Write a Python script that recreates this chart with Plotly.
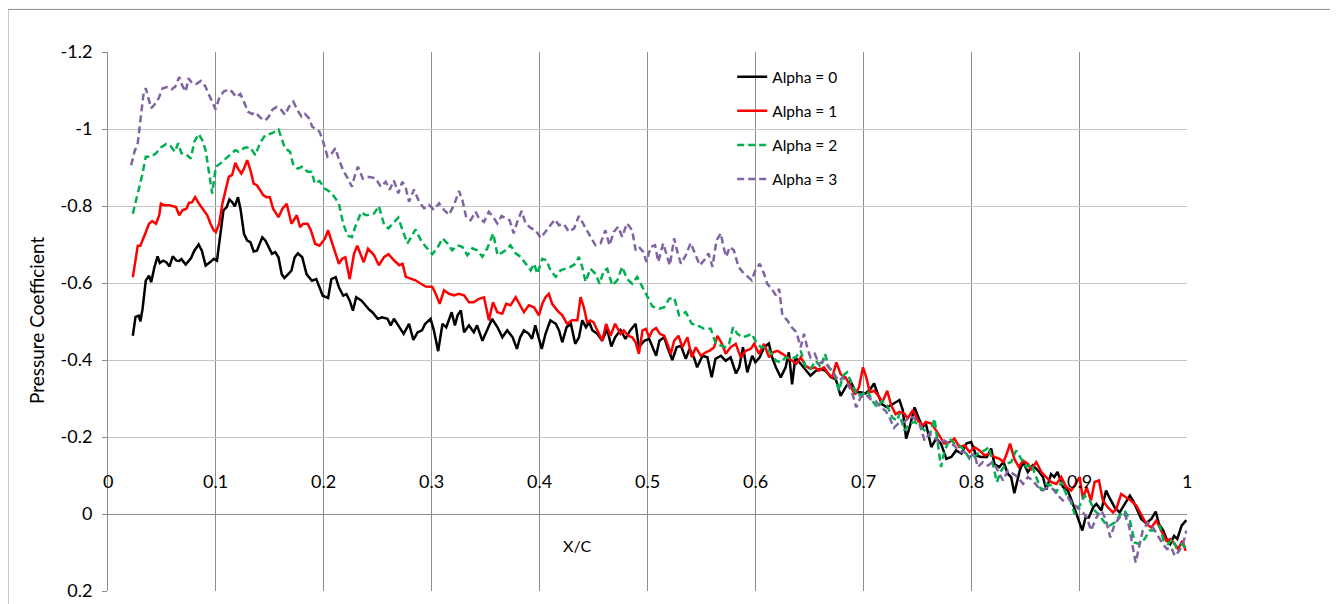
import plotly.graph_objects as go

# ---------------- data ----------------
series_names = ["Alpha = 0", "Alpha = 1", "Alpha = 2", "Alpha = 3"]

x_a0 = [0.023,0.0255,0.0285,0.030,0.032,0.035,0.038,0.040,0.043,0.046,0.048,0.051,0.054,0.057,0.060,0.0635,0.066,0.068,0.072,0.077,
        0.080,0.084,0.087,0.0905,0.095,0.098,0.101,0.103,0.107,0.110,0.1125,0.115,0.1175,0.1205,0.123,0.126,0.129,0.132,0.135,0.138,
        0.143,0.146,0.149,0.152,0.155,0.158,0.161,0.1635,0.167,0.170,0.173,0.176,0.180,0.184,0.189,0.193,0.196,0.199,0.204,0.207,
        0.211,0.214,0.218,0.221,0.224,0.227,0.230,0.235,0.239,
        0.242,0.245,0.250,0.254,0.259,0.262,0.265,0.269,0.274,0.279,0.283,0.287,0.291,0.294,0.299,0.302,0.306,0.310,0.3135,0.3185,
        0.3215,0.324,0.327,0.330,0.3345,0.339,0.342,0.347,0.351,0.356,0.361,0.3655,0.370,0.375,0.379,0.382,0.3855,0.390,0.393,0.396,
        0.399,0.402,0.4055,0.410,0.415,0.418,0.421,0.425,0.429,0.433,0.4365,0.4395,0.443,0.446,0.449,0.4535,0.458,0.4625,0.4665,0.470,
        0.475,0.4795,0.484,0.489,
        0.492,0.497,0.5015,0.5046,0.508,0.511,0.5155,0.5185,0.523,0.527,0.531,0.5355,0.539,0.543,0.546,0.551,0.5555,0.5595,0.563,0.568,
        0.5725,0.577,0.582,0.585,0.5885,0.5925,0.597,0.600,0.604,0.608,0.6125,0.6155,0.619,0.6235,0.628,0.631,0.634,0.637,0.642,0.6465,
        0.651,0.656,0.660,0.665,0.670,0.6745,0.679,0.6835,0.688,0.693,0.6975,0.702,0.7065,0.710,0.714,0.7175,0.722,0.727,0.7315,
        0.7335,0.7366,0.7397,0.743,0.7475,0.7515,0.755,0.758,0.763,0.7675,0.772,0.777,0.7815,0.786,0.791,0.7955,0.800,0.8046,0.809,0.8145,
        0.8185,0.8216,0.826,0.830,0.834,0.837,0.840,0.845,0.848,0.8525,0.857,0.862,0.8665,0.8696,0.874,0.877,0.880,0.885,0.8896,0.8943,
        0.898,0.903,0.906,0.909,0.913,0.916,0.9206,0.925,0.928,0.933,0.9376,0.942,0.947,0.950,0.9536,0.9576,0.962,0.967,0.971,0.974,
        0.978,0.981,0.9845,0.988,0.991,0.995,0.9994]
y_a0 = [-0.463,-0.512,-0.515,-0.500,-0.532,-0.606,-0.619,-0.602,-0.641,-0.669,-0.652,-0.658,-0.654,-0.643,-0.669,-0.658,-0.657,-0.662,-0.648,-0.665,
        -0.684,-0.700,-0.684,-0.645,-0.655,-0.663,-0.658,-0.706,-0.789,-0.797,-0.817,-0.810,-0.799,-0.823,-0.789,-0.728,-0.710,-0.706,-0.682,-0.684,
        -0.719,-0.710,-0.693,-0.676,-0.680,-0.667,-0.623,-0.613,-0.623,-0.632,-0.667,-0.677,-0.667,-0.623,-0.606,-0.610,-0.589,-0.567,-0.561,-0.610,
        -0.615,-0.589,-0.567,-0.571,-0.554,-0.528,-0.563,-0.554,-0.541,
        -0.531,-0.524,-0.507,-0.511,-0.507,-0.490,-0.507,-0.490,-0.468,-0.494,-0.452,-0.472,-0.477,-0.494,-0.507,-0.477,-0.423,-0.494,-0.485,-0.524,
        -0.490,-0.516,-0.529,-0.472,-0.490,-0.472,-0.490,-0.450,-0.477,-0.507,-0.485,-0.459,-0.477,-0.459,-0.429,-0.459,-0.477,-0.468,-0.455,-0.490,
        -0.459,-0.429,-0.468,-0.503,-0.494,-0.477,-0.446,-0.485,-0.494,-0.442,-0.459,-0.503,-0.485,-0.498,-0.477,-0.468,-0.450,-0.481,-0.435,-0.459,
        -0.478,-0.455,-0.477,-0.494,
        -0.433,-0.450,-0.455,-0.433,-0.411,-0.450,-0.459,-0.433,-0.400,-0.433,-0.437,-0.403,-0.429,-0.407,-0.381,-0.411,-0.407,-0.355,-0.403,-0.411,
        -0.398,-0.407,-0.365,-0.381,-0.433,-0.368,-0.411,-0.394,-0.407,-0.433,-0.443,-0.407,-0.381,-0.355,-0.381,-0.420,-0.337,-0.407,-0.390,-0.377,
        -0.359,-0.372,-0.377,-0.372,-0.355,-0.350,-0.307,-0.329,-0.346,-0.316,-0.316,-0.313,-0.324,-0.339,-0.307,-0.285,-0.277,-0.285,-0.294,
        -0.296,-0.270,-0.196,-0.226,-0.277,-0.248,-0.226,-0.235,-0.174,-0.196,-0.183,-0.143,-0.148,-0.165,-0.157,-0.183,-0.187,-0.152,-0.148,-0.148,
        -0.170,-0.130,-0.122,-0.135,-0.104,-0.096,-0.054,-0.113,-0.135,-0.109,-0.126,-0.113,-0.096,-0.063,-0.104,-0.096,-0.109,-0.070,-0.061,-0.026,
        0.004,0.043,0.009,0.009,-0.017,-0.026,-0.009,-0.061,-0.043,-0.017,-0.004,-0.026,-0.048,-0.035,-0.013,0.013,0.024,0.013,-0.006,0.026,
        0.043,0.065,0.078,0.057,0.065,0.030,0.016]

x_a1 = [0.023,0.0255,0.0276,0.030,0.032,0.035,0.038,0.041,0.0445,0.0475,0.049,0.052,0.057,0.060,0.063,0.066,0.069,0.0727,0.075,0.078,
        0.0807,0.0844,0.089,0.092,0.095,0.098,0.100,0.103,0.106,0.109,0.112,0.115,0.118,0.1205,0.1236,0.126,0.129,0.132,0.135,0.138,
        0.141,0.144,0.147,0.150,0.153,0.158,0.1617,0.1656,0.170,0.175,0.178,0.181,0.185,0.188,0.192,0.196,0.201,0.204,0.207,0.211,
        0.214,0.217,0.220,0.224,0.228,0.231,0.234,0.237,0.241,
        0.2466,0.251,0.256,0.260,0.265,0.270,0.273,0.276,0.2805,0.285,0.290,0.2944,0.3006,0.3037,0.3074,0.3114,0.316,0.3207,0.325,0.330,
        0.3346,0.339,0.3438,0.3485,0.353,0.3568,0.3608,0.3654,0.369,0.373,0.3778,0.3815,0.3855,0.390,0.3948,0.3994,0.4025,0.4055,0.4086,0.4117,
        0.4163,0.421,0.4256,0.430,0.435,0.438,0.441,0.444,0.447,0.450,0.4543,0.458,0.4617,0.4657,0.470,0.475,0.478,0.482,0.4858,0.489,
        0.492,0.4954,0.4985,0.5015,0.5046,0.508,0.5114,0.5155,0.5185,0.5216,0.5247,0.5287,0.5324,0.537,0.541,0.5448,0.5494,0.554,0.5577,0.5617,
        0.5648,0.569,0.5725,0.577,0.5818,0.5864,0.591,0.5957,0.5988,0.6034,0.608,0.6127,0.6164,0.6204,0.625,0.6296,0.6336,0.638,0.642,0.6466,
        0.651,0.6552,0.659,0.6636,0.668,0.6713,0.675,0.679,0.6836,0.6883,0.6923,0.696,0.6997,0.7028,0.706,0.710,0.714,0.7176,0.7222,0.726,0.730,
        0.7335,0.738,0.741,0.746,0.7505,0.755,0.758,0.763,0.7675,0.7706,0.775,0.780,0.7845,0.789,0.794,0.7985,0.803,0.8077,0.8124,0.817,
        0.8216,0.8263,0.830,0.833,0.836,0.840,0.8442,0.848,0.8525,0.8556,0.8603,0.865,0.8696,0.874,0.879,0.8835,0.888,0.8927,0.8958,0.9005,
        0.9036,0.907,0.911,0.9144,0.9184,0.922,0.9267,0.9314,0.9345,0.939,0.9437,0.948,0.953,0.9577,0.9623,0.967,0.9716,0.976,0.981,0.9845,
        0.9886,0.9917,0.9957,0.9988]
y_a1 = [-0.615,-0.658,-0.697,-0.697,-0.710,-0.732,-0.754,-0.761,-0.754,-0.776,-0.806,-0.802,-0.802,-0.799,-0.797,-0.776,-0.789,-0.793,-0.808,-0.810,
        -0.823,-0.806,-0.789,-0.776,-0.754,-0.737,-0.732,-0.754,-0.806,-0.845,-0.876,-0.880,-0.912,-0.897,-0.884,-0.897,-0.919,-0.893,-0.858,-0.854,
        -0.841,-0.828,-0.823,-0.823,-0.793,-0.771,-0.793,-0.806,-0.754,-0.776,-0.745,-0.754,-0.754,-0.737,-0.702,-0.697,-0.715,-0.737,-0.710,-0.676,
        -0.650,-0.663,-0.667,-0.610,-0.676,-0.697,-0.676,-0.654,-0.689,
        -0.672,-0.646,-0.668,-0.675,-0.659,-0.646,-0.650,-0.616,-0.611,-0.607,-0.598,-0.591,-0.590,-0.572,-0.546,-0.581,-0.572,-0.568,-0.572,-0.568,
        -0.550,-0.550,-0.559,-0.563,-0.503,-0.550,-0.524,-0.520,-0.546,-0.542,-0.563,-0.546,-0.524,-0.542,-0.537,-0.516,-0.546,-0.563,-0.572,-0.546,
        -0.529,-0.516,-0.494,-0.503,-0.503,-0.563,-0.537,-0.498,-0.503,-0.498,-0.472,-0.450,-0.494,-0.463,-0.494,-0.468,-0.477,-0.463,-0.459,-0.446,
        -0.416,-0.477,-0.481,-0.459,-0.477,-0.483,-0.468,-0.463,-0.442,-0.416,-0.450,-0.463,-0.433,-0.459,-0.407,-0.433,-0.411,-0.420,-0.424,-0.433,
        -0.463,-0.442,-0.416,-0.433,-0.442,-0.407,-0.424,-0.429,-0.442,-0.416,-0.442,-0.407,-0.420,-0.424,-0.416,-0.407,-0.398,-0.390,-0.407,-0.385,
        -0.377,-0.381,-0.372,-0.381,-0.363,-0.355,-0.394,-0.363,-0.355,-0.333,-0.311,-0.329,-0.381,-0.355,-0.316,-0.320,-0.307,-0.290,-0.320,-0.281,-0.259,
        -0.265,-0.261,-0.248,-0.270,-0.243,-0.230,-0.239,-0.235,-0.217,-0.204,-0.183,-0.187,-0.196,-0.174,-0.178,-0.161,-0.174,-0.165,-0.152,-0.157,
        -0.148,-0.143,-0.135,-0.157,-0.183,-0.143,-0.122,-0.139,-0.130,-0.117,-0.135,-0.109,-0.096,-0.083,-0.078,-0.096,-0.070,-0.061,-0.074,-0.096,
        -0.039,-0.070,-0.035,-0.083,-0.087,-0.035,-0.017,-0.004,-0.013,-0.052,-0.043,-0.035,-0.022,0.004,0.026,0.035,0.017,0.043,0.070,0.065,
        0.078,0.091,0.070,0.096]

x_a2 = [0.023,0.026,0.029,0.032,0.035,0.040,0.0445,0.049,0.054,0.058,0.062,0.065,0.068,0.0727,0.0767,0.080,0.084,0.0874,0.0905,0.0936,
        0.0966,0.100,0.104,0.109,0.1135,0.118,0.121,0.127,0.132,0.1365,0.141,0.1457,0.150,0.155,0.158,0.161,0.164,0.1687,0.1718,0.1758,
        0.180,0.185,0.1887,0.1917,0.196,0.201,0.2055,0.210,0.214,0.218,0.222,0.226,0.229,0.2347,0.239,
        0.242,0.2466,0.251,0.256,0.260,0.265,0.269,0.273,0.2775,0.2815,0.285,0.290,0.2944,0.3006,0.305,0.310,0.3145,0.319,0.3238,0.3284,
        0.333,0.3377,0.342,0.347,0.3515,0.357,0.361,0.364,0.3685,0.373,0.3778,0.3824,0.387,0.3917,0.3948,0.398,0.4025,0.4065,0.410,0.415,
        0.4195,0.424,0.4287,0.4333,0.4364,0.4395,0.4426,0.447,0.4518,0.4556,0.4596,0.4627,0.4673,0.472,0.4765,0.481,0.4858,0.4904,0.495,
        0.500,0.5046,0.511,0.5155,0.520,0.5247,0.5293,0.5355,0.541,0.5463,0.5525,0.5586,0.5633,0.568,0.5725,0.5756,0.5793,0.5833,0.588,0.5926,
        0.5966,0.600,0.605,0.6096,0.614,0.619,0.6235,0.628,0.6327,0.6373,0.642,0.6466,0.651,0.656,0.6605,0.6645,0.668,0.6728,0.6775,0.681,
        0.685,0.690,0.6944,0.699,0.7037,0.7083,0.713,0.7176,0.7222,0.727,0.7315,
        0.7335,0.738,0.743,0.7475,0.752,0.7567,0.7614,0.766,0.769,0.772,0.775,0.780,0.7845,0.789,0.7938,0.7985,0.803,0.8077,0.8124,0.8164,
        0.820,0.8238,0.8278,0.8325,0.837,0.8417,0.8464,0.851,0.8556,0.8603,0.865,0.8696,0.874,0.879,0.8835,0.888,0.8927,0.8958,0.9005,0.905,
        0.9097,0.9144,0.919,0.9236,0.9283,0.933,0.9376,0.942,0.9468,0.9515,0.956,0.9607,0.9654,0.970,0.9747,0.9784,0.9824,0.9864,0.990,0.9947,0.9988]
y_a2 = [-0.780,-0.815,-0.845,-0.884,-0.928,-0.928,-0.937,-0.952,-0.961,-0.956,-0.941,-0.963,-0.937,-0.934,-0.923,-0.967,-0.987,-0.971,-0.945,-0.884,
        -0.832,-0.902,-0.910,-0.923,-0.935,-0.945,-0.941,-0.952,-0.952,-0.932,-0.964,-0.984,-0.987,-0.993,-0.999,-0.976,-0.950,-0.941,-0.906,-0.897,
        -0.902,-0.889,-0.889,-0.858,-0.865,-0.845,-0.837,-0.823,-0.806,-0.754,-0.723,-0.719,-0.745,-0.784,-0.776,
        -0.777,-0.781,-0.800,-0.750,-0.742,-0.759,-0.770,-0.737,-0.703,-0.722,-0.739,-0.711,-0.694,-0.675,-0.690,-0.716,-0.703,-0.685,-0.698,-0.694,
        -0.672,-0.690,-0.685,-0.668,-0.690,-0.729,-0.672,-0.677,-0.685,-0.698,-0.677,-0.668,-0.650,-0.633,-0.650,-0.624,-0.663,-0.659,-0.633,-0.616,
        -0.633,-0.637,-0.642,-0.650,-0.668,-0.642,-0.603,-0.637,-0.624,-0.598,-0.633,-0.637,-0.594,-0.607,-0.642,-0.611,-0.598,-0.616,-0.590,
        -0.563,-0.539,-0.533,-0.537,-0.559,-0.562,-0.516,-0.524,-0.494,-0.490,-0.481,-0.481,-0.442,-0.437,-0.433,-0.442,-0.485,-0.468,-0.459,-0.463,
        -0.468,-0.450,-0.433,-0.433,-0.420,-0.398,-0.394,-0.407,-0.403,-0.407,-0.424,-0.381,-0.377,-0.398,-0.381,-0.416,-0.381,-0.368,-0.320,-0.359,
        -0.368,-0.333,-0.307,-0.311,-0.320,-0.294,-0.277,-0.294,-0.281,-0.250,-0.242,
        -0.261,-0.217,-0.235,-0.239,-0.230,-0.217,-0.204,-0.248,-0.191,-0.122,-0.161,-0.196,-0.183,-0.178,-0.165,-0.143,-0.148,-0.161,-0.165,-0.174,
        -0.130,-0.083,-0.113,-0.130,-0.135,-0.165,-0.143,-0.122,-0.130,-0.096,-0.061,-0.078,-0.074,-0.057,-0.083,-0.052,-0.030,0.000,-0.022,-0.048,
        -0.035,-0.009,0.004,0.022,0.030,0.022,0.004,-0.009,0.013,0.074,0.078,0.065,0.043,0.043,0.030,0.070,0.078,0.065,0.087,0.078,0.087]

x_a3 = [0.0215,0.0245,0.0276,0.0307,0.033,0.035,0.0377,0.040,0.043,0.047,0.0506,0.055,0.059,0.0623,0.066,0.069,0.072,0.0745,0.078,0.082,
        0.086,0.090,0.0936,0.0966,0.0997,0.103,0.107,0.112,0.115,0.1187,0.1227,0.126,0.1297,0.1334,0.1365,0.141,0.1457,0.149,0.1525,0.1564,
        0.1604,0.164,0.1678,0.1718,0.1758,0.1794,0.1825,0.1862,0.1893,0.193,0.196,0.1994,0.2034,0.207,0.2107,0.2138,0.2178,0.2224,0.226,0.2285,
        0.2316,0.2362,0.240,
        0.2481,0.2528,0.2574,0.261,0.265,0.269,0.2728,0.276,0.279,0.2836,0.2883,0.293,0.2975,0.302,0.3068,0.3114,0.316,0.3207,0.3253,0.3284,
        0.332,0.336,0.3407,0.3438,0.3485,0.353,0.3577,0.3608,0.3648,0.3685,0.3722,0.376,0.3793,0.3833,0.387,0.3917,0.3963,0.401,0.4056,0.4102,
        0.4142,0.418,0.4225,0.4272,0.432,0.4364,0.440,0.4441,0.4472,0.4518,0.4565,0.461,0.4648,0.4688,0.4728,0.4765,0.481,0.4858,0.489,
        0.492,0.496,0.499,0.503,0.507,0.510,0.5145,0.5176,0.5207,0.5247,0.528,0.531,0.5355,0.540,0.5448,0.5485,0.5525,0.5565,0.5602,0.564,
        0.568,0.570,0.573,0.5762,0.580,0.5843,0.588,0.5917,0.5966,0.600,0.604,0.608,0.611,0.615,0.619,0.622,0.625,0.6296,0.6336,0.638,
        0.642,0.645,0.648,0.651,0.655,0.659,0.6636,0.668,0.6728,0.6775,0.681,0.685,0.690,0.6935,0.6975,0.702,0.7068,0.7114,0.716,0.7207,
        0.7244,0.7284,0.733,
        0.738,0.743,0.7475,0.752,0.7567,0.7614,0.766,0.7706,0.775,0.780,0.7845,0.789,0.7938,0.7985,0.803,0.806,0.8108,0.8155,0.820,0.8247,
        0.8294,0.834,0.8386,0.8433,0.848,0.8525,0.857,0.862,0.8665,0.871,0.8757,0.8804,0.885,0.8896,0.8943,0.899,0.9036,0.9073,0.911,0.916,
        0.9206,0.9246,0.929,0.933,0.9376,0.9422,0.9462,0.950,0.9524,0.9555,0.959,0.9638,0.9685,0.973,0.9777,0.9815,0.9855,0.9886,0.9926,0.9963,0.9994]
y_a3 = [-0.906,-0.941,-0.964,-1.032,-1.093,-1.106,-1.076,-1.054,-1.063,-1.080,-1.106,-1.109,-1.103,-1.110,-1.135,-1.112,-1.097,-1.132,-1.119,-1.117,
        -1.125,-1.112,-1.089,-1.071,-1.051,-1.080,-1.097,-1.103,-1.097,-1.083,-1.091,-1.071,-1.045,-1.039,-1.043,-1.030,-1.022,-1.032,-1.051,-1.057,
        -1.050,-1.037,-1.058,-1.071,-1.048,-1.032,-1.039,-1.028,-1.006,-0.999,-0.993,-0.967,-0.928,-0.935,-0.950,-0.923,-0.893,-0.871,-0.850,-0.876,
        -0.902,-0.871,-0.876,
        -0.872,-0.850,-0.863,-0.842,-0.866,-0.833,-0.863,-0.846,-0.811,-0.843,-0.811,-0.794,-0.803,-0.790,-0.807,-0.790,-0.777,-0.803,-0.839,-0.816,
        -0.770,-0.763,-0.785,-0.768,-0.759,-0.785,-0.768,-0.755,-0.774,-0.768,-0.763,-0.729,-0.759,-0.787,-0.755,-0.743,-0.737,-0.717,-0.733,-0.750,
        -0.765,-0.750,-0.753,-0.733,-0.742,-0.774,-0.755,-0.737,-0.720,-0.698,-0.703,-0.737,-0.698,-0.733,-0.746,-0.720,-0.755,-0.737,-0.685,
        -0.694,-0.681,-0.655,-0.694,-0.698,-0.655,-0.703,-0.677,-0.646,-0.716,-0.677,-0.650,-0.672,-0.704,-0.672,-0.646,-0.659,-0.677,-0.642,-0.711,
        -0.729,-0.698,-0.668,-0.694,-0.685,-0.642,-0.629,-0.620,-0.607,-0.633,-0.650,-0.624,-0.598,-0.585,-0.568,-0.585,-0.516,-0.503,-0.485,-0.472,
        -0.433,-0.468,-0.433,-0.407,-0.416,-0.390,-0.398,-0.381,-0.363,-0.346,-0.355,-0.342,-0.311,-0.277,-0.303,-0.311,-0.298,-0.294,-0.277,-0.268,
        -0.250,-0.224,-0.237,
        -0.239,-0.254,-0.248,-0.235,-0.191,-0.209,-0.200,-0.183,-0.191,-0.183,-0.178,-0.161,-0.161,-0.148,-0.157,-0.122,-0.135,-0.126,-0.135,-0.113,
        -0.087,-0.113,-0.104,-0.096,-0.078,-0.096,-0.087,-0.070,-0.061,-0.070,-0.065,-0.048,-0.035,-0.043,-0.026,-0.017,-0.004,0.009,0.043,0.009,
        -0.009,0.013,0.061,0.026,0.009,0.000,0.030,0.087,0.126,0.087,0.043,0.022,0.035,0.057,0.078,0.091,0.087,0.109,0.096,0.078,0.043]

line_colors = ["#000000", "#FF0000", "#00B050", "#8064A2"]
line_dashes = ["solid", "solid", "7px,4px", "7px,4px"]

x_tick_vals = [0, 0.1, 0.2, 0.3, 0.4, 0.5, 0.6, 0.7, 0.8, 0.9, 1]
x_tick_text = ["0", "0.1", "0.2", "0.3", "0.4", "0.5", "0.6", "0.7", "0.8", "0.9", "1"]
y_tick_vals = [-1.2, -1.0, -0.8, -0.6, -0.4, -0.2, 0.0, 0.2]
y_tick_text = ["-1.2", "-1", "-0.8", "-0.6", "-0.4", "-0.2", "0", "0.2"]

x_title = "X/C"
y_title = "Pressure Coefficient"

# ---------------- figure ----------------
FONT = "Lato, 'Open Sans', sans-serif"
fig = go.Figure()
xs = [x_a0, x_a1, x_a2, x_a3]
ys = [y_a0, y_a1, y_a2, y_a3]
for name, xv, yv, col, dsh in zip(series_names, xs, ys, line_colors, line_dashes):
    fig.add_trace(go.Scatter(x=xv, y=yv, mode="lines", name=name, legendgroup=name,
                             line=dict(color=col, width=2.5, dash=dsh)))

annotations = []
for v, t in zip(x_tick_vals, x_tick_text):
    annotations.append(dict(x=v, y=-0.085, xref="x", yref="y", text=t, showarrow=False,
                            font=dict(family=FONT, size=18, color="#000000"),
                            xanchor="center", yanchor="middle"))
annotations.append(dict(x=0.435, y=0.081, xref="x", yref="y", text=x_title, showarrow=False,
                        font=dict(family=FONT, size=16, color="#000000"), xanchor="center", yanchor="middle"))
annotations.append(dict(x=-0.0657, y=0.501, xref="paper", yref="paper", text=y_title, showarrow=False,
                        textangle=-90, font=dict(family=FONT, size=19, color="#000000"),
                        xanchor="center", yanchor="middle"))

fig.update_layout(
    width=1330, height=596,
    margin=dict(l=100, r=151, t=44, b=13, pad=0, autoexpand=False),
    paper_bgcolor="white", plot_bgcolor="white",
    font=dict(family=FONT, size=15, color="#000000"),
    showlegend=True,
    legend=dict(x=0.5785, y=0.985, xanchor="left", yanchor="top", bgcolor="rgba(0,0,0,0)",
                font=dict(family=FONT, size=15.5, color="#000000"), tracegroupgap=11,
                itemwidth=30),
    xaxis=dict(range=[0, 1], tickvals=x_tick_vals, showticklabels=False, showgrid=True, automargin=False,
               gridcolor="#8c8c8c", gridwidth=1, zeroline=False, showline=False, ticks=""),
    yaxis=dict(range=[0.2, -1.2], tickvals=y_tick_vals, ticktext=y_tick_text, showgrid=True, automargin=False,
               gridcolor="#c4c4c4", gridwidth=1, zeroline=True, zerolinecolor="#8c8c8c", zerolinewidth=1,
               showline=True, linecolor="#8c8c8c", linewidth=1, ticks="outside", ticklen=5,
               tickcolor="#8c8c8c", ticklabelstandoff=6,
               tickfont=dict(family=FONT, size=18, color="#000000")),
    annotations=annotations,
    shapes=[dict(type="rect", xref="paper", yref="paper", x0=-0.0927, x1=1.138, y0=-0.2, y1=1.079,
                 line=dict(color="#8c8c8c", width=1), fillcolor="rgba(0,0,0,0)", layer="below")],
)

fig.write_html("out.html")
